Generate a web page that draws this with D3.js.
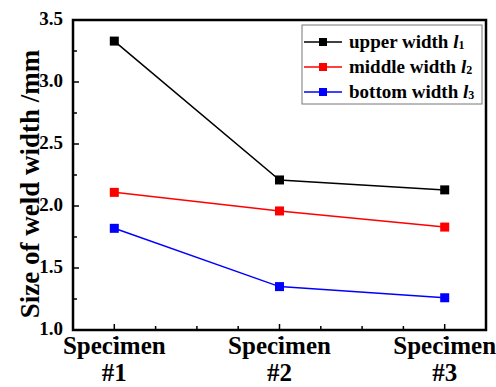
<!DOCTYPE html>
<html lang="en">
<head>
<meta charset="UTF-8">
<title>Size of weld width</title>
<script src="https://d3js.org/d3.v7.min.js"></script>
<style>
  body { margin: 0; background: #fff; }
</style>
</head>
<body>
<div id="chart"></div>
<script>
// data
const specimens = [1, 2, 3];
const specimenLabels = ["#1", "#2", "#3"];
const upperWidth = [3.33, 2.21, 2.13];
const middleWidth = [2.11, 1.96, 1.83];
const bottomWidth = [1.82, 1.35, 1.26];
const yTicks = [1.0, 1.5, 2.0, 2.5, 3.0, 3.5];

const series = [
  { name: "upper width ", sub: "1", values: upperWidth, color: "#000000" },
  { name: "middle width ", sub: "2", values: middleWidth, color: "#ff0000" },
  { name: "bottom width ", sub: "3", values: bottomWidth, color: "#0000ff" }
];

const FONT = "Liberation Serif";
const width = 496, height = 387;
const margin = { top: 20, right: 10, bottom: 57, left: 73 };

const svg = d3.select("#chart").append("svg")
  .attr("width", width)
  .attr("height", height);

const x = d3.scaleLinear()
  .domain([0.75, 3.25])
  .range([margin.left, width - margin.right]);

const y = d3.scaleLinear()
  .domain([1.0, 3.5])
  .range([height - margin.bottom, margin.top]);

// ticks (inward), minor ones in between
const g = svg.append("g");
const xMinor = d3.range(1.0, 3.25, 0.25);
const yMinor = d3.range(1.25, 3.5, 0.5);

g.selectAll(".xt").data(xMinor).join("line")
  .attr("x1", d => x(d)).attr("x2", d => x(d))
  .attr("y1", y(1.0)).attr("y2", d => y(1.0) - (Number.isInteger(d) ? 6 : 4))
  .attr("stroke", "#000").attr("stroke-width", 1.5);

// little marks just under the axis at the specimen ticks
g.selectAll(".xd").data(specimens).join("rect")
  .attr("x", d => x(d) - 1).attr("y", y(1.0) + 7)
  .attr("width", 2).attr("height", 2)
  .attr("fill", "#000");

g.selectAll(".yt").data(yTicks.concat(yMinor)).join("line")
  .attr("x1", x(0.75)).attr("x2", d => x(0.75) + (yTicks.includes(d) ? 6 : 4))
  .attr("y1", d => y(d)).attr("y2", d => y(d))
  .attr("stroke", "#000").attr("stroke-width", 1.5);

// frame
svg.append("rect")
  .attr("x", x(0.75)).attr("y", y(3.5))
  .attr("width", x(3.25) - x(0.75))
  .attr("height", y(1.0) - y(3.5))
  .attr("fill", "none").attr("stroke", "#000").attr("stroke-width", 2.5);

// y tick labels
svg.selectAll(".ylab").data(yTicks).join("text")
  .attr("x", margin.left - 10)
  .attr("y", d => y(d) + 5)
  .attr("text-anchor", "end")
  .attr("font-family", FONT)
  .attr("font-weight", "bold")
  .attr("font-size", 19)
  .text(d => d.toFixed(1));

// x tick labels
const xl = svg.selectAll(".xlab").data(specimens).join("text")
  .attr("text-anchor", "middle")
  .attr("font-family", FONT)
  .attr("font-weight", "bold")
  .attr("font-size", 25);
xl.append("tspan").attr("x", d => x(d)).attr("y", 354).text("Specimen");
xl.append("tspan").attr("x", d => x(d)).attr("y", 381).text((d, i) => specimenLabels[i]);

// y axis title
svg.append("text")
  .attr("transform", `translate(39,${(y(1.0) + y(3.5)) / 2 + 9}) rotate(-90)`)
  .attr("text-anchor", "middle")
  .attr("font-family", FONT)
  .attr("font-weight", "bold")
  .attr("font-size", 27)
  .text("Size of weld width /mm");

// lines and markers
const line = d3.line().x((d, i) => x(specimens[i])).y(d => y(d));
series.forEach(s => {
  svg.append("path")
    .attr("d", line(s.values))
    .attr("fill", "none").attr("stroke", s.color).attr("stroke-width", 1.5);
  svg.selectAll(null).data(s.values).join("rect")
    .attr("x", (d, i) => x(specimens[i]) - 4.5)
    .attr("y", d => y(d) - 4.5)
    .attr("width", 9).attr("height", 9)
    .attr("fill", s.color);
});

// legend
const lg = svg.append("g");
lg.append("rect")
  .attr("x", 302).attr("y", 25).attr("width", 180).attr("height", 79)
  .attr("fill", "#fff").attr("stroke", "#777").attr("stroke-width", 1);

series.forEach((s, i) => {
  const ly = 42 + i * 25;
  lg.append("line")
    .attr("x1", 304).attr("x2", 342).attr("y1", ly).attr("y2", ly)
    .attr("stroke", s.color).attr("stroke-width", 1.5);
  lg.append("rect")
    .attr("x", 319).attr("y", ly - 4).attr("width", 8).attr("height", 8)
    .attr("fill", s.color);
  const t = lg.append("text")
    .attr("x", 349).attr("y", ly + 6)
    .attr("font-family", FONT)
    .attr("font-weight", "bold")
    .attr("font-size", 19);
  t.append("tspan").text(s.name);
  t.append("tspan").attr("font-style", "italic").text("l");
  t.append("tspan").attr("font-size", 12).attr("dy", 1).text(s.sub);
});
</script>
</body>
</html>
